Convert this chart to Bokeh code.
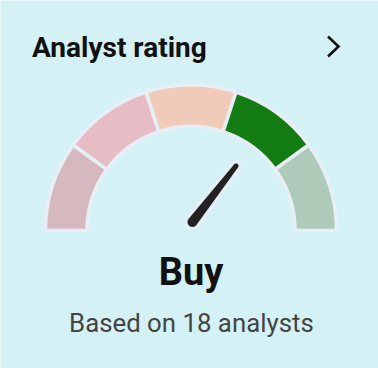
import numpy as np
from bokeh.plotting import figure
from bokeh.models import Range1d
from bokeh.core.properties import value
from bokeh.embed import file_html
from bokeh.resources import INLINE

# ---- data ----
title_text = "Analyst rating"
rating_label = "Buy"
subtitle_text = "Based on 18 analysts"
categories = ["Strong sell", "Sell", "Hold", "Buy", "Strong buy"]
segment_colors = ["#d6b8bf", "#e6bdc5", "#f0cbb9", "#127c12", "#aecab9"]
rating_value = 3.84          # on a 1 (strong sell) .. 5 (strong buy) scale
scale_min, scale_max = 1, 5

BG = "#d4f2f5"
EDGE = "#e7eef5"

W, H = 378, 368
p = figure(width=W, height=H, output_backend="svg", toolbar_location=None,
           x_range=Range1d(-190.5, 187.5), y_range=Range1d(-138, 230),
           min_border=0, background_fill_color=BG, border_fill_color=BG)
p.axis.visible = False
p.grid.visible = False
p.outline_line_color = None

# ---- gauge segments ----
n = len(categories)
step = np.pi / n
starts = [np.pi - (i + 1) * step for i in range(n)]
ends = [np.pi - i * step for i in range(n)]
p.annular_wedge(x=[0] * n, y=[0] * n, inner_radius=104, outer_radius=145.5,
                start_angle=starts, end_angle=ends, fill_color=segment_colors,
                line_color=EDGE, line_width=3.5)

# ---- needle ----
frac = (rating_value - scale_min) / (scale_max - scale_min)
ang = np.pi * (1 - frac)
bx, by = 1.5, 8.5            # needle pivot
length = 71
tx, ty = bx + length * np.cos(ang), by + length * np.sin(ang)
r_base, r_tip = 6.5, 4.0
perp = ang + np.pi / 2
t1 = np.linspace(perp, perp + np.pi, 20)       # base half circle (back side)
t2 = np.linspace(perp - np.pi, perp, 20)       # tip half circle (front side)
xs = np.concatenate([bx + r_base * np.cos(t1), tx + r_tip * np.cos(t2)])
ys = np.concatenate([by + r_base * np.sin(t1), ty + r_tip * np.sin(t2)])
p.patch(xs, ys, fill_color="#222222", line_color=EDGE, line_width=3)

# ---- texts ----
p.text(x=[-159], y=[183.5], text=[title_text], text_font=value("Roboto"),
       text_font_style="bold", text_font_size="28px", text_color="#111111",
       text_align="left", text_baseline="alphabetic")
p.line(x=[137, 147.5, 137], y=[194, 184, 174], line_color="#111111",
       line_width=2.6, line_join="miter", line_cap="butt")
p.text(x=[0], y=[-41.5], text=[rating_label], text_font=value("Roboto"),
       text_font_style="bold", text_font_size="38px", text_color="#111111",
       text_align="center", text_baseline="alphabetic")
p.text(x=[0.4], y=[-92.5], text=[subtitle_text], text_font=value("Roboto"),
       text_font_size="25.8px", text_color="#444444",
       text_align="center", text_baseline="alphabetic")

html = file_html(p, INLINE, title="Analyst rating")
html = html.replace("<body>", '<body style="background-color:#d4f2f5;">', 1)
open("out.html", "w").write(html)
